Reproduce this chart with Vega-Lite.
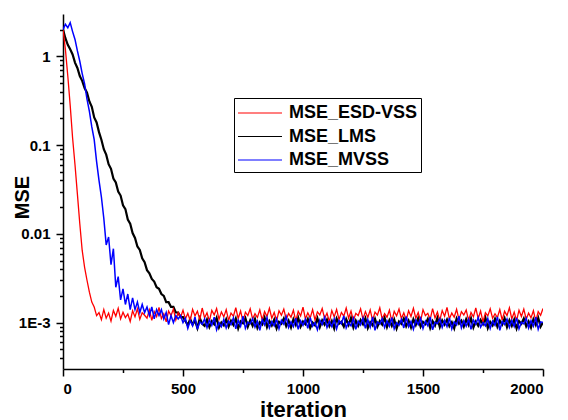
{
  "$schema": "https://vega.github.io/schema/vega-lite/v6.json",
  "width": 480,
  "height": 355,
  "autosize": {"type": "none"},
  "padding": {"left": 63, "top": 14, "right": 25, "bottom": 51},
  "background": "white",
  "config": {
    "view": {"stroke": null},
    "font": "Liberation Sans",
    "axis": {
      "grid": false,
      "domainColor": "black",
      "domainWidth": 1.5,
      "tickColor": "black",
      "tickWidth": 1.5,
      "labelFont": "Liberation Sans",
      "labelFontWeight": "bold",
      "labelFontSize": 15,
      "labelColor": "black",
      "labelPadding": 6,
      "titleFont": "Liberation Sans",
      "titleFontWeight": "bold",
      "titleColor": "black"
    }
  },
  "data": {
    "values": [
      {"it":0,"MSE_ESD-VSS":2.0,"MSE_LMS":2.0,"MSE_MVSS":2.0},
      {"it":10,"MSE_ESD-VSS":1.2,"MSE_LMS":1.6,"MSE_MVSS":2.3},
      {"it":20,"MSE_ESD-VSS":0.6,"MSE_LMS":1.35,"MSE_MVSS":2.1},
      {"it":30,"MSE_ESD-VSS":0.28,"MSE_LMS":1.2,"MSE_MVSS":2.4},
      {"it":40,"MSE_ESD-VSS":0.12,"MSE_LMS":1.05,"MSE_MVSS":1.9},
      {"it":50,"MSE_ESD-VSS":0.06,"MSE_LMS":0.85,"MSE_MVSS":1.55},
      {"it":60,"MSE_ESD-VSS":0.028,"MSE_LMS":0.74,"MSE_MVSS":1.15},
      {"it":70,"MSE_ESD-VSS":0.013,"MSE_LMS":0.6,"MSE_MVSS":0.88},
      {"it":80,"MSE_ESD-VSS":0.0065,"MSE_LMS":0.53,"MSE_MVSS":0.64},
      {"it":90,"MSE_ESD-VSS":0.0042,"MSE_LMS":0.44,"MSE_MVSS":0.49},
      {"it":100,"MSE_ESD-VSS":0.003,"MSE_LMS":0.39,"MSE_MVSS":0.33},
      {"it":110,"MSE_ESD-VSS":0.0022,"MSE_LMS":0.31,"MSE_MVSS":0.24},
      {"it":120,"MSE_ESD-VSS":0.0017,"MSE_LMS":0.27,"MSE_MVSS":0.16},
      {"it":130,"MSE_ESD-VSS":0.0015,"MSE_LMS":0.205,"MSE_MVSS":0.115},
      {"it":140,"MSE_ESD-VSS":0.0012,"MSE_LMS":0.18,"MSE_MVSS":0.065},
      {"it":150,"MSE_ESD-VSS":0.0013,"MSE_LMS":0.14,"MSE_MVSS":0.04},
      {"it":160,"MSE_ESD-VSS":0.00108,"MSE_LMS":0.115,"MSE_MVSS":0.026},
      {"it":170,"MSE_ESD-VSS":0.0014,"MSE_LMS":0.09,"MSE_MVSS":0.015},
      {"it":180,"MSE_ESD-VSS":0.00112,"MSE_LMS":0.078,"MSE_MVSS":0.0075},
      {"it":190,"MSE_ESD-VSS":0.00128,"MSE_LMS":0.061,"MSE_MVSS":0.0092},
      {"it":200,"MSE_ESD-VSS":0.00104,"MSE_LMS":0.054,"MSE_MVSS":0.0045},
      {"it":210,"MSE_ESD-VSS":0.00137,"MSE_LMS":0.042,"MSE_MVSS":0.0068},
      {"it":220,"MSE_ESD-VSS":0.00118,"MSE_LMS":0.038,"MSE_MVSS":0.0025},
      {"it":230,"MSE_ESD-VSS":0.00145,"MSE_LMS":0.03,"MSE_MVSS":0.0033},
      {"it":240,"MSE_ESD-VSS":0.0011,"MSE_LMS":0.027,"MSE_MVSS":0.0018},
      {"it":250,"MSE_ESD-VSS":0.00131,"MSE_LMS":0.021,"MSE_MVSS":0.0024},
      {"it":260,"MSE_ESD-VSS":0.00114,"MSE_LMS":0.019,"MSE_MVSS":0.0016},
      {"it":270,"MSE_ESD-VSS":0.00125,"MSE_LMS":0.0145,"MSE_MVSS":0.0021},
      {"it":280,"MSE_ESD-VSS":0.00103,"MSE_LMS":0.013,"MSE_MVSS":0.0014},
      {"it":290,"MSE_ESD-VSS":0.00136,"MSE_LMS":0.0102,"MSE_MVSS":0.0019},
      {"it":300,"MSE_ESD-VSS":0.00116,"MSE_LMS":0.009,"MSE_MVSS":0.0014},
      {"it":310,"MSE_ESD-VSS":0.00143,"MSE_LMS":0.0072,"MSE_MVSS":0.0017},
      {"it":320,"MSE_ESD-VSS":0.00109,"MSE_LMS":0.0066,"MSE_MVSS":0.0013},
      {"it":330,"MSE_ESD-VSS":0.00129,"MSE_LMS":0.0053,"MSE_MVSS":0.0016},
      {"it":340,"MSE_ESD-VSS":0.00121,"MSE_LMS":0.0048,"MSE_MVSS":0.0013},
      {"it":350,"MSE_ESD-VSS":0.00112,"MSE_LMS":0.0039,"MSE_MVSS":0.0015},
      {"it":360,"MSE_ESD-VSS":0.00139,"MSE_LMS":0.0036,"MSE_MVSS":0.0012},
      {"it":370,"MSE_ESD-VSS":0.00106,"MSE_LMS":0.0031,"MSE_MVSS":0.0015},
      {"it":380,"MSE_ESD-VSS":0.00133,"MSE_LMS":0.0029,"MSE_MVSS":0.0011},
      {"it":390,"MSE_ESD-VSS":0.00117,"MSE_LMS":0.0025,"MSE_MVSS":0.0014},
      {"it":400,"MSE_ESD-VSS":0.00148,"MSE_LMS":0.0024,"MSE_MVSS":0.0012},
      {"it":410,"MSE_ESD-VSS":0.00111,"MSE_LMS":0.0021,"MSE_MVSS":0.0014},
      {"it":420,"MSE_ESD-VSS":0.00126,"MSE_LMS":0.002,"MSE_MVSS":0.0011},
      {"it":430,"MSE_ESD-VSS":0.00102,"MSE_LMS":0.0017,"MSE_MVSS":0.0013},
      {"it":440,"MSE_ESD-VSS":0.00135,"MSE_LMS":0.0017,"MSE_MVSS":0.00095},
      {"it":450,"MSE_ESD-VSS":0.0012,"MSE_LMS":0.0015,"MSE_MVSS":0.0012},
      {"it":460,"MSE_ESD-VSS":0.00142,"MSE_LMS":0.0015,"MSE_MVSS":0.001},
      {"it":470,"MSE_ESD-VSS":0.00107,"MSE_LMS":0.0013,"MSE_MVSS":0.0012},
      {"it":480,"MSE_ESD-VSS":0.0013,"MSE_LMS":0.0013,"MSE_MVSS":0.0011},
      {"it":490,"MSE_ESD-VSS":0.00115,"MSE_LMS":0.00115,"MSE_MVSS":0.0012},
      {"it":500,"MSE_ESD-VSS":0.00138,"MSE_LMS":0.00115,"MSE_MVSS":0.001},
      {"it":510,"MSE_ESD-VSS":0.0011,"MSE_LMS":0.00104,"MSE_MVSS":0.00112},
      {"it":520,"MSE_ESD-VSS":0.00127,"MSE_LMS":0.00093,"MSE_MVSS":0.00086},
      {"it":530,"MSE_ESD-VSS":0.00105,"MSE_LMS":0.0011,"MSE_MVSS":0.00105},
      {"it":540,"MSE_ESD-VSS":0.00141,"MSE_LMS":0.00095,"MSE_MVSS":0.00092},
      {"it":550,"MSE_ESD-VSS":0.00119,"MSE_LMS":0.00106,"MSE_MVSS":0.00116},
      {"it":560,"MSE_ESD-VSS":0.00134,"MSE_LMS":0.00087,"MSE_MVSS":0.00084},
      {"it":570,"MSE_ESD-VSS":0.00108,"MSE_LMS":0.00112,"MSE_MVSS":0.00102},
      {"it":580,"MSE_ESD-VSS":0.00146,"MSE_LMS":0.00097,"MSE_MVSS":0.00096},
      {"it":590,"MSE_ESD-VSS":0.00113,"MSE_LMS":0.00092,"MSE_MVSS":0.0011},
      {"it":600,"MSE_ESD-VSS":0.00129,"MSE_LMS":0.00108,"MSE_MVSS":0.00088},
      {"it":610,"MSE_ESD-VSS":0.00104,"MSE_LMS":0.00089,"MSE_MVSS":0.00107},
      {"it":620,"MSE_ESD-VSS":0.00137,"MSE_LMS":0.00104,"MSE_MVSS":0.00093},
      {"it":630,"MSE_ESD-VSS":0.00122,"MSE_LMS":0.00096,"MSE_MVSS":0.00115},
      {"it":640,"MSE_ESD-VSS":0.00144,"MSE_LMS":0.00113,"MSE_MVSS":0.00083},
      {"it":650,"MSE_ESD-VSS":0.00109,"MSE_LMS":0.00088,"MSE_MVSS":0.001},
      {"it":660,"MSE_ESD-VSS":0.00132,"MSE_LMS":0.001,"MSE_MVSS":0.0009},
      {"it":670,"MSE_ESD-VSS":0.00116,"MSE_LMS":0.00093,"MSE_MVSS":0.00109},
      {"it":680,"MSE_ESD-VSS":0.0014,"MSE_LMS":0.00109,"MSE_MVSS":0.00087},
      {"it":690,"MSE_ESD-VSS":0.00106,"MSE_LMS":0.0009,"MSE_MVSS":0.00104},
      {"it":700,"MSE_ESD-VSS":0.00128,"MSE_LMS":0.00105,"MSE_MVSS":0.00095},
      {"it":710,"MSE_ESD-VSS":0.00118,"MSE_LMS":0.00094,"MSE_MVSS":0.00113},
      {"it":720,"MSE_ESD-VSS":0.00147,"MSE_LMS":0.00111,"MSE_MVSS":0.00085},
      {"it":730,"MSE_ESD-VSS":0.00111,"MSE_LMS":0.00086,"MSE_MVSS":0.00106},
      {"it":740,"MSE_ESD-VSS":0.00135,"MSE_LMS":0.00103,"MSE_MVSS":0.00091},
      {"it":750,"MSE_ESD-VSS":0.00103,"MSE_LMS":0.00098,"MSE_MVSS":0.00118},
      {"it":760,"MSE_ESD-VSS":0.00131,"MSE_LMS":0.00112,"MSE_MVSS":0.00086},
      {"it":770,"MSE_ESD-VSS":0.0012,"MSE_LMS":0.0009,"MSE_MVSS":0.00101},
      {"it":780,"MSE_ESD-VSS":0.00143,"MSE_LMS":0.00106,"MSE_MVSS":0.00097},
      {"it":790,"MSE_ESD-VSS":0.0011,"MSE_LMS":0.00092,"MSE_MVSS":0.00111},
      {"it":800,"MSE_ESD-VSS":0.00126,"MSE_LMS":0.0011,"MSE_MVSS":0.00089},
      {"it":810,"MSE_ESD-VSS":0.00114,"MSE_LMS":0.00087,"MSE_MVSS":0.00104},
      {"it":820,"MSE_ESD-VSS":0.00139,"MSE_LMS":0.00101,"MSE_MVSS":0.00082},
      {"it":830,"MSE_ESD-VSS":0.00107,"MSE_LMS":0.00095,"MSE_MVSS":0.00108},
      {"it":840,"MSE_ESD-VSS":0.00133,"MSE_LMS":0.00114,"MSE_MVSS":0.00094},
      {"it":850,"MSE_ESD-VSS":0.00117,"MSE_LMS":0.00089,"MSE_MVSS":0.00114},
      {"it":860,"MSE_ESD-VSS":0.00145,"MSE_LMS":0.00104,"MSE_MVSS":0.00087},
      {"it":870,"MSE_ESD-VSS":0.00112,"MSE_LMS":0.00093,"MSE_MVSS":0.00103},
      {"it":880,"MSE_ESD-VSS":0.0013,"MSE_LMS":0.00108,"MSE_MVSS":0.00092},
      {"it":890,"MSE_ESD-VSS":0.00105,"MSE_LMS":0.00086,"MSE_MVSS":0.0011},
      {"it":900,"MSE_ESD-VSS":0.00136,"MSE_LMS":0.00102,"MSE_MVSS":0.00085},
      {"it":910,"MSE_ESD-VSS":0.00121,"MSE_LMS":0.00097,"MSE_MVSS":0.00106},
      {"it":920,"MSE_ESD-VSS":0.00142,"MSE_LMS":0.00111,"MSE_MVSS":0.00096},
      {"it":930,"MSE_ESD-VSS":0.00109,"MSE_LMS":0.00091,"MSE_MVSS":0.00117},
      {"it":940,"MSE_ESD-VSS":0.00127,"MSE_LMS":0.00105,"MSE_MVSS":0.00088},
      {"it":950,"MSE_ESD-VSS":0.00115,"MSE_LMS":0.00088,"MSE_MVSS":0.00102},
      {"it":960,"MSE_ESD-VSS":0.00138,"MSE_LMS":0.00109,"MSE_MVSS":0.0009},
      {"it":970,"MSE_ESD-VSS":0.00104,"MSE_LMS":0.00094,"MSE_MVSS":0.00112},
      {"it":980,"MSE_ESD-VSS":0.00134,"MSE_LMS":0.00113,"MSE_MVSS":0.00084},
      {"it":990,"MSE_ESD-VSS":0.00119,"MSE_LMS":0.0009,"MSE_MVSS":0.00105},
      {"it":1000,"MSE_ESD-VSS":0.00149,"MSE_LMS":0.00103,"MSE_MVSS":0.00093},
      {"it":1010,"MSE_ESD-VSS":0.0011,"MSE_LMS":0.00096,"MSE_MVSS":0.00109},
      {"it":1020,"MSE_ESD-VSS":0.00129,"MSE_LMS":0.0011,"MSE_MVSS":0.00086},
      {"it":1030,"MSE_ESD-VSS":0.00113,"MSE_LMS":0.00087,"MSE_MVSS":0.00114},
      {"it":1040,"MSE_ESD-VSS":0.0014,"MSE_LMS":0.001,"MSE_MVSS":0.00091},
      {"it":1050,"MSE_ESD-VSS":0.00107,"MSE_LMS":0.00093,"MSE_MVSS":0.001},
      {"it":1060,"MSE_ESD-VSS":0.00132,"MSE_LMS":0.00112,"MSE_MVSS":0.00083},
      {"it":1070,"MSE_ESD-VSS":0.00122,"MSE_LMS":0.00089,"MSE_MVSS":0.00107},
      {"it":1080,"MSE_ESD-VSS":0.00144,"MSE_LMS":0.00106,"MSE_MVSS":0.00095},
      {"it":1090,"MSE_ESD-VSS":0.00111,"MSE_LMS":0.00095,"MSE_MVSS":0.00115},
      {"it":1100,"MSE_ESD-VSS":0.00128,"MSE_LMS":0.00108,"MSE_MVSS":0.00088},
      {"it":1110,"MSE_ESD-VSS":0.00102,"MSE_LMS":0.00091,"MSE_MVSS":0.00103},
      {"it":1120,"MSE_ESD-VSS":0.00137,"MSE_LMS":0.00104,"MSE_MVSS":0.0009},
      {"it":1130,"MSE_ESD-VSS":0.00116,"MSE_LMS":0.00086,"MSE_MVSS":0.0011},
      {"it":1140,"MSE_ESD-VSS":0.00141,"MSE_LMS":0.00111,"MSE_MVSS":0.00085},
      {"it":1150,"MSE_ESD-VSS":0.00108,"MSE_LMS":0.00097,"MSE_MVSS":0.00106},
      {"it":1160,"MSE_ESD-VSS":0.0013,"MSE_LMS":0.00102,"MSE_MVSS":0.00097},
      {"it":1170,"MSE_ESD-VSS":0.00118,"MSE_LMS":0.0009,"MSE_MVSS":0.00119},
      {"it":1180,"MSE_ESD-VSS":0.00146,"MSE_LMS":0.00109,"MSE_MVSS":0.00087},
      {"it":1190,"MSE_ESD-VSS":0.00112,"MSE_LMS":0.00094,"MSE_MVSS":0.00101},
      {"it":1200,"MSE_ESD-VSS":0.00135,"MSE_LMS":0.00113,"MSE_MVSS":0.00092},
      {"it":1210,"MSE_ESD-VSS":0.00105,"MSE_LMS":0.00088,"MSE_MVSS":0.00112},
      {"it":1220,"MSE_ESD-VSS":0.00127,"MSE_LMS":0.00105,"MSE_MVSS":0.00084},
      {"it":1230,"MSE_ESD-VSS":0.0012,"MSE_LMS":0.00092,"MSE_MVSS":0.00104},
      {"it":1240,"MSE_ESD-VSS":0.00143,"MSE_LMS":0.00107,"MSE_MVSS":0.00094},
      {"it":1250,"MSE_ESD-VSS":0.00109,"MSE_LMS":0.00096,"MSE_MVSS":0.00113},
      {"it":1260,"MSE_ESD-VSS":0.00133,"MSE_LMS":0.00112,"MSE_MVSS":0.00086},
      {"it":1270,"MSE_ESD-VSS":0.00114,"MSE_LMS":0.00087,"MSE_MVSS":0.00108},
      {"it":1280,"MSE_ESD-VSS":0.00139,"MSE_LMS":0.00101,"MSE_MVSS":0.00089},
      {"it":1290,"MSE_ESD-VSS":0.00106,"MSE_LMS":0.00093,"MSE_MVSS":0.00116},
      {"it":1300,"MSE_ESD-VSS":0.00131,"MSE_LMS":0.0011,"MSE_MVSS":0.00082},
      {"it":1310,"MSE_ESD-VSS":0.00121,"MSE_LMS":0.0009,"MSE_MVSS":0.00102},
      {"it":1320,"MSE_ESD-VSS":0.00147,"MSE_LMS":0.00104,"MSE_MVSS":0.00096},
      {"it":1330,"MSE_ESD-VSS":0.0011,"MSE_LMS":0.00095,"MSE_MVSS":0.00111},
      {"it":1340,"MSE_ESD-VSS":0.00126,"MSE_LMS":0.00114,"MSE_MVSS":0.00088},
      {"it":1350,"MSE_ESD-VSS":0.00115,"MSE_LMS":0.00089,"MSE_MVSS":0.00105},
      {"it":1360,"MSE_ESD-VSS":0.00138,"MSE_LMS":0.00106,"MSE_MVSS":0.00091},
      {"it":1370,"MSE_ESD-VSS":0.00103,"MSE_LMS":0.00092,"MSE_MVSS":0.00114},
      {"it":1380,"MSE_ESD-VSS":0.00134,"MSE_LMS":0.00108,"MSE_MVSS":0.00085},
      {"it":1390,"MSE_ESD-VSS":0.00119,"MSE_LMS":0.00086,"MSE_MVSS":0.001},
      {"it":1400,"MSE_ESD-VSS":0.00142,"MSE_LMS":0.00103,"MSE_MVSS":0.00093},
      {"it":1410,"MSE_ESD-VSS":0.00111,"MSE_LMS":0.00097,"MSE_MVSS":0.00109},
      {"it":1420,"MSE_ESD-VSS":0.00129,"MSE_LMS":0.00111,"MSE_MVSS":0.00087},
      {"it":1430,"MSE_ESD-VSS":0.00107,"MSE_LMS":0.00091,"MSE_MVSS":0.00117},
      {"it":1440,"MSE_ESD-VSS":0.00136,"MSE_LMS":0.00105,"MSE_MVSS":0.0009},
      {"it":1450,"MSE_ESD-VSS":0.00117,"MSE_LMS":0.00088,"MSE_MVSS":0.00103},
      {"it":1460,"MSE_ESD-VSS":0.00145,"MSE_LMS":0.00109,"MSE_MVSS":0.00084},
      {"it":1470,"MSE_ESD-VSS":0.00112,"MSE_LMS":0.00094,"MSE_MVSS":0.00107},
      {"it":1480,"MSE_ESD-VSS":0.0013,"MSE_LMS":0.00112,"MSE_MVSS":0.00095},
      {"it":1490,"MSE_ESD-VSS":0.00104,"MSE_LMS":0.0009,"MSE_MVSS":0.00112},
      {"it":1500,"MSE_ESD-VSS":0.0014,"MSE_LMS":0.00102,"MSE_MVSS":0.00086},
      {"it":1510,"MSE_ESD-VSS":0.0012,"MSE_LMS":0.00096,"MSE_MVSS":0.00104},
      {"it":1520,"MSE_ESD-VSS":0.00127,"MSE_LMS":0.0011,"MSE_MVSS":0.00092},
      {"it":1530,"MSE_ESD-VSS":0.00109,"MSE_LMS":0.00087,"MSE_MVSS":0.00115},
      {"it":1540,"MSE_ESD-VSS":0.00144,"MSE_LMS":0.00104,"MSE_MVSS":0.00083},
      {"it":1550,"MSE_ESD-VSS":0.00113,"MSE_LMS":0.00093,"MSE_MVSS":0.00101},
      {"it":1560,"MSE_ESD-VSS":0.00132,"MSE_LMS":0.00113,"MSE_MVSS":0.00097},
      {"it":1570,"MSE_ESD-VSS":0.00106,"MSE_LMS":0.00089,"MSE_MVSS":0.0011},
      {"it":1580,"MSE_ESD-VSS":0.00137,"MSE_LMS":0.00106,"MSE_MVSS":0.00088},
      {"it":1590,"MSE_ESD-VSS":0.00118,"MSE_LMS":0.00095,"MSE_MVSS":0.00106},
      {"it":1600,"MSE_ESD-VSS":0.00148,"MSE_LMS":0.00108,"MSE_MVSS":0.0009},
      {"it":1610,"MSE_ESD-VSS":0.0011,"MSE_LMS":0.00091,"MSE_MVSS":0.00113},
      {"it":1620,"MSE_ESD-VSS":0.00128,"MSE_LMS":0.00101,"MSE_MVSS":0.00085},
      {"it":1630,"MSE_ESD-VSS":0.00115,"MSE_LMS":0.00086,"MSE_MVSS":0.00102},
      {"it":1640,"MSE_ESD-VSS":0.00141,"MSE_LMS":0.00111,"MSE_MVSS":0.00094},
      {"it":1650,"MSE_ESD-VSS":0.00108,"MSE_LMS":0.00097,"MSE_MVSS":0.00118},
      {"it":1660,"MSE_ESD-VSS":0.00133,"MSE_LMS":0.00105,"MSE_MVSS":0.00087},
      {"it":1670,"MSE_ESD-VSS":0.00122,"MSE_LMS":0.0009,"MSE_MVSS":0.00105},
      {"it":1680,"MSE_ESD-VSS":0.00139,"MSE_LMS":0.00109,"MSE_MVSS":0.00091},
      {"it":1690,"MSE_ESD-VSS":0.00105,"MSE_LMS":0.00094,"MSE_MVSS":0.00109},
      {"it":1700,"MSE_ESD-VSS":0.0013,"MSE_LMS":0.00112,"MSE_MVSS":0.00084},
      {"it":1710,"MSE_ESD-VSS":0.00116,"MSE_LMS":0.00088,"MSE_MVSS":0.00107},
      {"it":1720,"MSE_ESD-VSS":0.00146,"MSE_LMS":0.00103,"MSE_MVSS":0.00096},
      {"it":1730,"MSE_ESD-VSS":0.00111,"MSE_LMS":0.00092,"MSE_MVSS":0.00114},
      {"it":1740,"MSE_ESD-VSS":0.00135,"MSE_LMS":0.00107,"MSE_MVSS":0.00089},
      {"it":1750,"MSE_ESD-VSS":0.00102,"MSE_LMS":0.00096,"MSE_MVSS":0.001},
      {"it":1760,"MSE_ESD-VSS":0.00129,"MSE_LMS":0.00114,"MSE_MVSS":0.00092},
      {"it":1770,"MSE_ESD-VSS":0.00119,"MSE_LMS":0.00087,"MSE_MVSS":0.00111},
      {"it":1780,"MSE_ESD-VSS":0.00143,"MSE_LMS":0.00102,"MSE_MVSS":0.00086},
      {"it":1790,"MSE_ESD-VSS":0.00112,"MSE_LMS":0.00093,"MSE_MVSS":0.00104},
      {"it":1800,"MSE_ESD-VSS":0.00126,"MSE_LMS":0.0011,"MSE_MVSS":0.00093},
      {"it":1810,"MSE_ESD-VSS":0.00114,"MSE_LMS":0.0009,"MSE_MVSS":0.00116},
      {"it":1820,"MSE_ESD-VSS":0.0014,"MSE_LMS":0.00105,"MSE_MVSS":0.00082},
      {"it":1830,"MSE_ESD-VSS":0.00107,"MSE_LMS":0.00095,"MSE_MVSS":0.00103},
      {"it":1840,"MSE_ESD-VSS":0.00134,"MSE_LMS":0.00112,"MSE_MVSS":0.00095},
      {"it":1850,"MSE_ESD-VSS":0.0012,"MSE_LMS":0.00089,"MSE_MVSS":0.0011},
      {"it":1860,"MSE_ESD-VSS":0.00147,"MSE_LMS":0.00106,"MSE_MVSS":0.00088},
      {"it":1870,"MSE_ESD-VSS":0.0011,"MSE_LMS":0.00092,"MSE_MVSS":0.00106},
      {"it":1880,"MSE_ESD-VSS":0.00131,"MSE_LMS":0.00108,"MSE_MVSS":0.0009},
      {"it":1890,"MSE_ESD-VSS":0.00105,"MSE_LMS":0.00086,"MSE_MVSS":0.00113},
      {"it":1900,"MSE_ESD-VSS":0.00138,"MSE_LMS":0.00104,"MSE_MVSS":0.00085},
      {"it":1910,"MSE_ESD-VSS":0.00117,"MSE_LMS":0.00097,"MSE_MVSS":0.00101},
      {"it":1920,"MSE_ESD-VSS":0.00142,"MSE_LMS":0.00111,"MSE_MVSS":0.00097},
      {"it":1930,"MSE_ESD-VSS":0.00109,"MSE_LMS":0.00091,"MSE_MVSS":0.00112},
      {"it":1940,"MSE_ESD-VSS":0.00128,"MSE_LMS":0.00103,"MSE_MVSS":0.00087},
      {"it":1950,"MSE_ESD-VSS":0.00113,"MSE_LMS":0.00088,"MSE_MVSS":0.00105},
      {"it":1960,"MSE_ESD-VSS":0.00136,"MSE_LMS":0.00109,"MSE_MVSS":0.00091},
      {"it":1970,"MSE_ESD-VSS":0.00104,"MSE_LMS":0.00094,"MSE_MVSS":0.00115},
      {"it":1980,"MSE_ESD-VSS":0.00133,"MSE_LMS":0.00113,"MSE_MVSS":0.00084},
      {"it":1990,"MSE_ESD-VSS":0.00121,"MSE_LMS":0.0009,"MSE_MVSS":0.00102},
      {"it":2000,"MSE_ESD-VSS":0.00144,"MSE_LMS":0.00101,"MSE_MVSS":0.001}
    ]
  },
  "transform": [
    {"fold": ["MSE_ESD-VSS", "MSE_LMS", "MSE_MVSS"], "as": ["series", "mse"]}
  ],
  "encoding": {
    "x": {
      "field": "it",
      "type": "quantitative",
      "scale": {"domain": [0, 2000], "nice": false, "zero": false},
      "axis": {
        "title": "iteration",
        "titleFontSize": 22,
        "titleBaseline": "alphabetic",
        "titleY": 47,
        "labelPadding": 5,
        "values": [0, 250, 500, 750, 1000, 1250, 1500, 1750, 2000],
        "format": "d",
        "labelExpr": "datum.value % 500 == 0 ? datum.label : ''",
        "tickSize": {"condition": {"test": "datum.value % 500 == 0", "value": 7}, "value": 3.5}
      }
    },
    "y": {
      "field": "mse",
      "type": "quantitative",
      "scale": {"type": "log", "domain": [0.0003, 3], "nice": false},
      "axis": {
        "title": "MSE",
        "titleFontSize": 20,
        "titleAngle": 270,
        "titleAlign": "center",
        "titleBaseline": "alphabetic",
        "titleX": -35,
        "titleY": 183,
        "values": [0.0004, 0.0005, 0.0006, 0.0007, 0.0008, 0.0009, 0.001, 0.002, 0.003, 0.004, 0.005, 0.006, 0.007, 0.008, 0.009, 0.01, 0.02, 0.03, 0.04, 0.05, 0.06, 0.07, 0.08, 0.09, 0.1, 0.2, 0.3, 0.4, 0.5, 0.6, 0.7, 0.8, 0.9, 1, 2],
        "labelExpr": "datum.value == 1 ? '1' : datum.value == 0.1 ? '0.1' : datum.value == 0.01 ? '0.01' : datum.value == 0.001 ? '1E-3' : ''",
        "tickSize": {"condition": {"test": "datum.value == 1 || datum.value == 0.1 || datum.value == 0.01 || datum.value == 0.001", "value": 7}, "value": 3.5}
      }
    },
    "color": {
      "field": "series",
      "type": "nominal",
      "scale": {"domain": ["MSE_ESD-VSS", "MSE_LMS", "MSE_MVSS"], "range": ["#ff0000", "#000000", "#0000ff"]},
      "legend": {
        "title": null,
        "orient": "none",
        "legendX": 171,
        "legendY": 84,
        "strokeColor": "black",
        "fillColor": "white",
        "padding": 3,
        "rowPadding": 2.5,
        "symbolType": "M-1,0H3",
        "symbolSize": 484,
        "symbolStrokeWidth": 1.2,
        "labelFont": "Liberation Sans",
        "labelFontSize": 18,
        "labelFontWeight": "bold",
        "labelColor": "black",
        "labelOffset": 28
      }
    }
  },
  "layer": [
    {
      "transform": [{"filter": "datum.series == 'MSE_LMS'"}],
      "mark": {"type": "line", "clip": true, "strokeWidth": 2.2}
    },
    {
      "transform": [{"filter": "datum.series == 'MSE_ESD-VSS'"}],
      "mark": {"type": "line", "clip": true, "strokeWidth": 1.3}
    },
    {
      "transform": [{"filter": "datum.series == 'MSE_MVSS'"}],
      "mark": {"type": "line", "clip": true, "strokeWidth": 1.5}
    }
  ]
}
